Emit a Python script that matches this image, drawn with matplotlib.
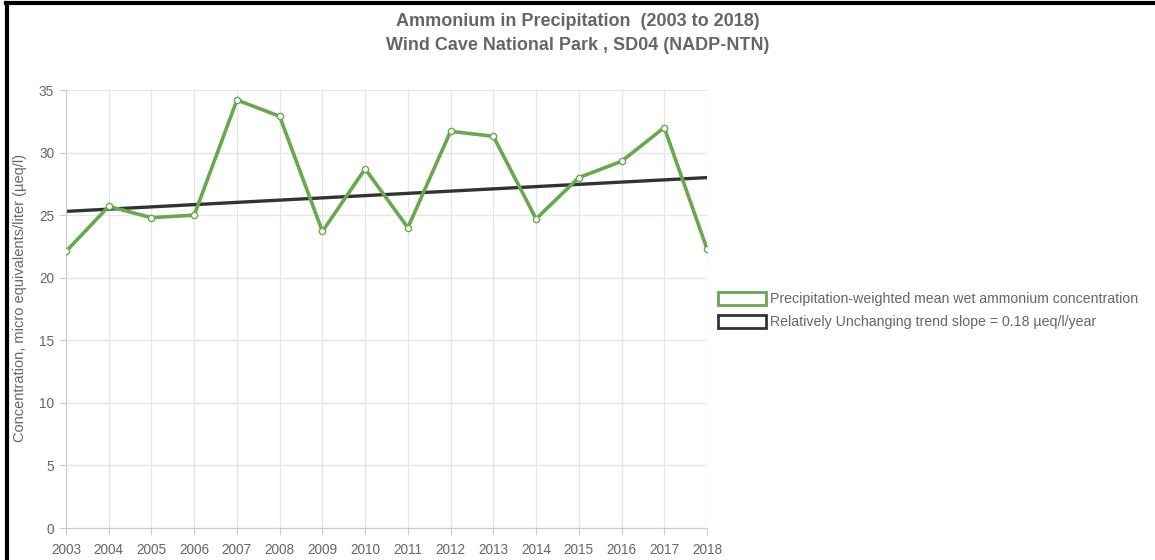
import matplotlib.pyplot as plt
from matplotlib.patches import Patch
from matplotlib.lines import Line2D

years = [2003, 2004, 2005, 2006, 2007, 2008, 2009, 2010,
         2011, 2012, 2013, 2014, 2015, 2016, 2017, 2018]
ammonium = [22.1, 25.7, 24.8, 25.0, 34.2, 32.9, 23.7, 28.7,
            24.0, 31.7, 31.3, 24.7, 28.0, 29.3, 32.0, 22.3]
trend_years = [2003, 2018]
trend_values = [25.3, 28.0]
y_ticks = [0, 5, 10, 15, 20, 25, 30, 35]

GREEN = "#6aa84f"
DARK = "#333333"
TEXT = "#666666"
GRID = "#e6e6e6"

plt.rcParams["font.family"] = ["Liberation Sans", "DejaVu Sans"]

fig = plt.figure(figsize=(11.55, 5.6), dpi=100)
ax = fig.add_axes([66 / 1155, 32 / 560, 641 / 1155, 438 / 560])

ax.plot(years, ammonium, color=GREEN, lw=2.6, marker="o", ms=4.5,
        mfc="white", mec=GREEN, mew=1.0, zorder=3)
ax.plot(trend_years, trend_values, color=DARK, lw=2.4, zorder=2)

ax.set_xlim(years[0], years[-1])
ax.set_ylim(0, 35)
ax.set_xticks(years)
ax.set_yticks(y_ticks)
ax.grid(True, color=GRID, lw=1)
ax.set_axisbelow(True)
for side in ("top", "right"):
    ax.spines[side].set_visible(False)
for side in ("left", "bottom"):
    ax.spines[side].set_color("#cccccc")
ax.tick_params(colors="#cccccc", labelcolor=TEXT, labelsize=9.8, length=5)
ax.tick_params(axis="x", pad=6)

ax.set_ylabel("Concentration, micro equivalents/liter (\u00b5eq/l)",
              fontsize=10.5, color=TEXT)
ax.yaxis.set_label_coords(-0.061, 0.525)

fig.text(0.5, 1 - 22 / 560, "Ammonium in Precipitation  (2003 to 2018)",
         ha="center", va="center", fontsize=13, fontweight="bold", color=TEXT)
fig.text(0.5, 1 - 45 / 560, "Wind Cave National Park , SD04 (NADP-NTN)",
         ha="center", va="center", fontsize=13, fontweight="bold", color=TEXT)

handles = [Patch(facecolor="white", edgecolor=GREEN, lw=2),
           Patch(facecolor="white", edgecolor=DARK, lw=2)]
labels = ["Precipitation-weighted mean wet ammonium concentration",
          "Relatively Unchanging trend slope = 0.18 \u00b5eq/l/year"]
fig.legend(handles, labels, loc="upper left",
           bbox_to_anchor=(705 / 1155, 1 - 279 / 560), frameon=False,
           fontsize=10.2, labelcolor=TEXT, handlelength=3.4, handleheight=1.05,
           handletextpad=0.3, labelspacing=0.6)

# outer frame lines (top and left) as in the screenshot
fig.add_artist(Line2D([7 / 1155, 7 / 1155], [0, 1 - 3 / 560],
                      transform=fig.transFigure, color="black", lw=3))
fig.add_artist(Line2D([6 / 1155, 1], [1 - 3 / 560, 1 - 3 / 560],
                      transform=fig.transFigure, color="black", lw=3))

fig.savefig("out.png", dpi=100)
